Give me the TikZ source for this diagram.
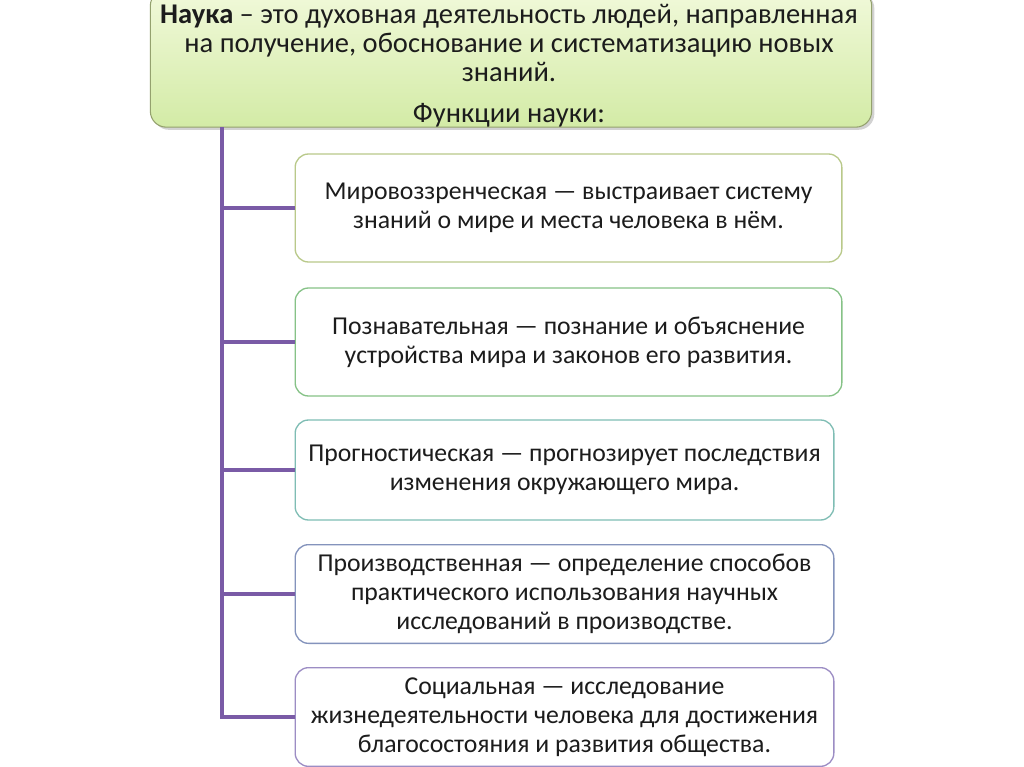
\documentclass[tikz,border=0pt]{standalone}
\usepackage{fontspec}
\setmainfont{Carlito}
\usetikzlibrary{shadows}

\definecolor{spinecol}{HTML}{7A5BA6}
\definecolor{topA}{HTML}{F1F9DA}
\definecolor{topB}{HTML}{D3EBA6}
\definecolor{bordA}{HTML}{B9C98A}
\definecolor{bordB}{HTML}{86C287}
\definecolor{bordC}{HTML}{7FBDB4}
\definecolor{bordD}{HTML}{8493BC}
\definecolor{bordE}{HTML}{9C8DC4}
\definecolor{txt}{HTML}{1C1C1C}

\tikzset{
  funcbox/.style={draw, line width=1pt, rounded corners=10pt, fill=white,
    minimum width=410pt, text width=400pt, align=flush center, font=\fontsize{19.3}{21.8}\selectfont,
    text=txt, inner sep=0pt},
  branch/.style={draw=spinecol, line width=2.6pt}
}

\begin{document}
\begin{tikzpicture}[x=0.75pt, y=-0.75pt]

		\useasboundingbox (0,0) rectangle (1024,767);
		\fill[white] (0,0) rectangle (1024,767);

		% Top box
		\node[draw=bordA!80!black, line width=0.8pt, rounded corners=12pt,
		      top color=topA, bottom color=topB, minimum width=541pt, minimum height=103pt,
		      drop shadow={opacity=0.35, shadow xshift=2pt, shadow yshift=-2pt}]
		      (nauka) at (511,58.5) {};
		\node[font=\fontsize{21.4}{21.6}\selectfont, text=txt, align=flush center, text width=560pt]
		      (title) at (509,43) {\textbf{Наука} – это духовная деятельность людей, направленная\\
		      на получение, обоснование и систематизацию новых\\ знаний.};
		\node[font=\fontsize{21.4}{21.6}\selectfont, text=txt] (funk) at (509,115) {Функции науки:};

		% Function boxes
		\node[funcbox, draw=bordA, minimum width=410pt, minimum height=81pt] (f1) at (568.5,208)
		      {Мировоззренческая — выстраивает систему\\ знаний о мире и места человека в нём.};
		\node[funcbox, draw=bordB, minimum width=410pt, minimum height=81pt] (f2) at (568.5,342)
		      {Познавательная — познание и объяснение\\ устройства мира и законов его развития.};
		\node[funcbox, draw=bordC, minimum width=404pt, minimum height=75pt] (f3) at (564.5,470)
		      {Прогностическая — прогнозирует последствия\\ изменения окружающего мира.};
		\node[funcbox, draw=bordD, minimum width=404pt, minimum height=74pt] (f4) at (564.5,594)
		      {Производственная — определение способов\\ практического использования научных\\ исследований в производстве.};
		\node[funcbox, draw=bordE, minimum width=404pt, minimum height=74pt] (f5) at (564.5,717)
		      {Социальная — исследование\\ жизнедеятельности человека для достижения\\ благосостояния и развития общества.};

		% Connectors
		\coordinate (spine) at (222,127);
		\foreach \i in {1,...,5}
			\draw[branch] (spine) |- (f\i.west);

	\end{tikzpicture}
\end{document}
